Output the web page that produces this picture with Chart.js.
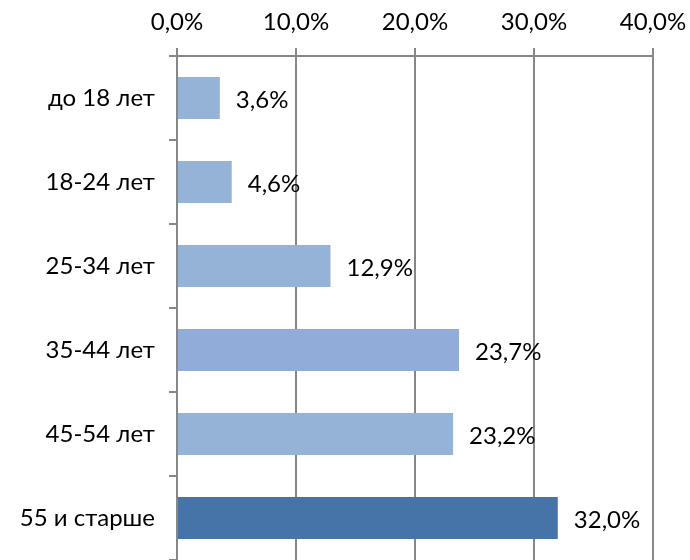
<!DOCTYPE html>
<html>
<head>
<meta charset="utf-8">
<script src="https://cdn.jsdelivr.net/npm/chart.js@4.4.1/dist/chart.umd.min.js"></script>
<style>
  html, body { margin: 0; padding: 0; background: #fff; overflow: hidden; }
</style>
</head>
<body>
<canvas id="chart" width="690" height="560"></canvas>
<script>
const categories = ["до 18 лет", "18-24 лет", "25-34 лет", "35-44 лет", "45-54 лет", "55 и старше"];
const shares = [3.6, 4.6, 12.9, 23.7, 23.2, 32.0];
const barColors = ["#95B3D7", "#95B3D7", "#95B3D7", "#92ACDA", "#95B3D7", "#4674A8"];
const axisTicks = [0, 10, 20, 30, 40];

const fmt = (v) => v.toFixed(1).replace(".", ",") + "%";
const FONT = "Lato";
const FONT_SIZE = 24;
const gridGray = "#878787";

// draws the value labels right of each bar
const valueLabels = {
  id: "valueLabels",
  afterDatasetsDraw(chart) {
    const ctx = chart.ctx;
    const meta = chart.getDatasetMeta(0);
    ctx.save();
    ctx.font = FONT_SIZE + "px " + FONT;
    ctx.fillStyle = "#000";
    ctx.textAlign = "left";
    ctx.textBaseline = "middle";
    meta.data.forEach((bar, i) => {
      ctx.fillText(fmt(shares[i]), bar.x + 16, bar.y + 2);
    });
    ctx.restore();
  }
};

new Chart(document.getElementById("chart"), {
  type: "bar",
  data: {
    labels: categories,
    datasets: [{
      data: shares,
      backgroundColor: barColors,
      borderWidth: 0,
      barPercentage: 0.5,
      categoryPercentage: 1
    }]
  },
  options: {
    indexAxis: "y",
    responsive: false,
    animation: false,
    layout: { padding: { left: 0, right: 37, top: 0, bottom: 0 } },
    plugins: { legend: { display: false }, tooltip: { enabled: false } },
    scales: {
      x: {
        position: "top",
        min: 0,
        max: 40,
        afterBuildTicks: (scale) => { scale.ticks = axisTicks.map(v => ({ value: v })); },
        // fixed plot box: axis line at y=56, right edge at 653
        afterFit: (scale) => { scale.height = 56; scale.paddingRight = 0; scale.paddingLeft = 0; },
        ticks: {
          callback: (v) => fmt(v),
          color: "#000",
          font: { family: FONT, size: FONT_SIZE },
          padding: 11
        },
        grid: { color: gridGray, lineWidth: 2, tickLength: 8, tickColor: gridGray },
        border: { color: gridGray, width: 2 }
      },
      y: {
        // plot runs down to the bottom edge of the picture
        afterFit: (scale) => { scale.width = 177; scale.paddingTop = 0; scale.paddingBottom = 0; },
        ticks: {
          color: "#000",
          font: { family: FONT, size: FONT_SIZE },
          padding: 14
        },
        grid: { drawOnChartArea: false, offset: true, tickLength: 8, color: gridGray, lineWidth: 2 },
        border: { color: gridGray, width: 2 }
      }
    }
  },
  plugins: [valueLabels]
});
</script>
</body>
</html>
